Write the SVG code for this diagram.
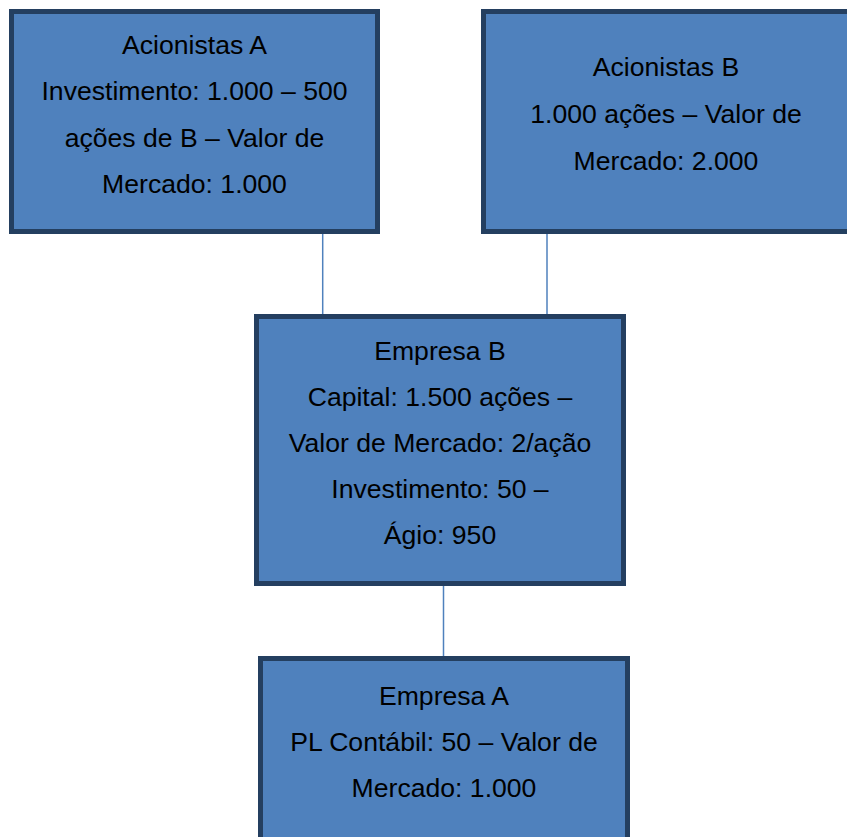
<svg xmlns="http://www.w3.org/2000/svg" width="847" height="837" viewBox="0 0 847 837">
<style>
.box{fill:#4f81bd;stroke:#243f60;stroke-width:5}
.t{font-family:"Liberation Sans",Arial,sans-serif;font-size:26.6px;fill:#000;text-anchor:middle}
.c{stroke:#4f81bd;stroke-width:1.5;fill:none}
</style>
<rect width="847" height="837" fill="#fff"/>
<g id="connectors">
<line class="c" x1="322.7" y1="234" x2="322.7" y2="316"/>
<line class="c" x1="547" y1="234" x2="547" y2="316"/>
<line class="c" x1="443.5" y1="586" x2="443.5" y2="658"/>
</g>
<g id="acionistasA">
<rect class="box" x="11.5" y="11.5" width="366" height="220"/>
<text class="t" x="194.5" y="54">Acionistas A</text>
<text class="t" x="194.5" y="100">Investimento: 1.000 – 500</text>
<text class="t" x="194.5" y="147">ações de B – Valor de</text>
<text class="t" x="194.5" y="193">Mercado: 1.000</text>
</g>
<g id="acionistasB">
<rect class="box" x="483.5" y="11.5" width="366" height="220"/>
<text class="t" x="666" y="76">Acionistas B</text>
<text class="t" x="666" y="123">1.000 ações – Valor de</text>
<text class="t" x="666" y="170">Mercado: 2.000</text>
</g>
<g id="empresaB">
<rect class="box" x="256.5" y="316.5" width="367" height="267"/>
<text class="t" x="440" y="360">Empresa B</text>
<text class="t" x="440" y="406">Capital: 1.500 ações –</text>
<text class="t" x="440" y="452">Valor de Mercado: 2/ação</text>
<text class="t" x="440" y="498">Investimento: 50 –</text>
<text class="t" x="440" y="544">Ágio: 950</text>
</g>
<g id="empresaA">
<rect class="box" x="260.5" y="658.5" width="367" height="181"/>
<text class="t" x="444" y="705">Empresa A</text>
<text class="t" x="444" y="751">PL Contábil: 50 – Valor de</text>
<text class="t" x="444" y="797">Mercado: 1.000</text>
</g>
</svg>
